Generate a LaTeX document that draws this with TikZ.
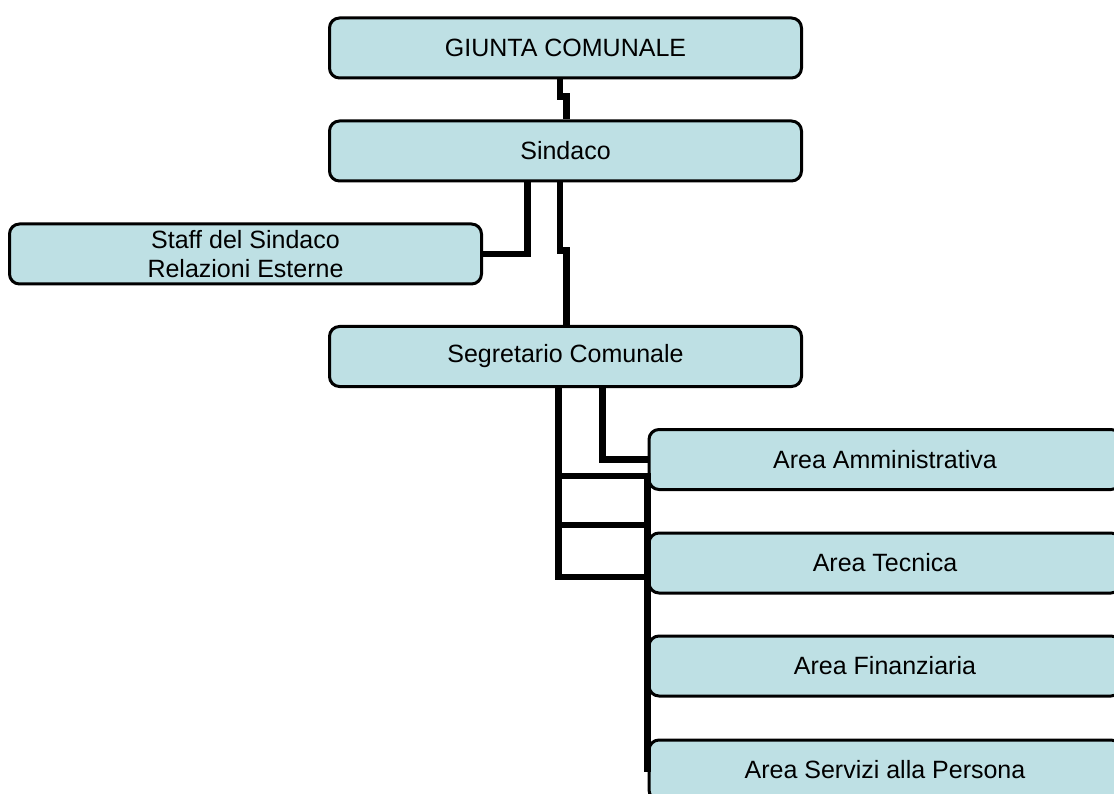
\documentclass[tikz,border=0pt]{standalone}
\usepackage{fontspec}
\setmainfont{Liberation Sans}
\definecolor{boxfill}{RGB}{190,224,228}
\begin{document}
\begin{tikzpicture}[x=1pt,y=-1pt,
  box/.style={draw=black, line width=3pt, fill=boxfill, rounded corners=10pt,
    minimum width=472pt, minimum height=60pt, inner sep=0pt, align=center,
    font=\fontsize{25}{28.75}\selectfont},
  conn/.style={draw=black, line width=6.5pt, miter limit=10}]
\useasboundingbox (0,0) rectangle (1114,794);
\clip (0,0) rectangle (1114,794);
\node[box] (giunta) at (565.5,48) {GIUNTA COMUNALE};
\node[box] (sindaco) at (565.5,151) {Sindaco};
\node[box] (staff) at (245.5,254) {Staff del Sindaco\\Relazioni Esterne};
\node[box] (segr) at (565.5,356.5) {Segretario Comunale};
\node[box] (amm) at (885,459.5) {Area Amministrativa};
\node[box] (tec) at (885,563) {Area Tecnica};
\node[box] (fin) at (885,666) {Area Finanziaria};
\node[box] (serv) at (885,770) {Area Servizi alla Persona};
\coordinate (ja) at (558.5,476);
\coordinate (jb) at (558.5,525);
\coordinate (jc) at (558.5,577);
\draw[conn] ([xshift=-5.5pt]giunta.south) -- ++(0,17) -| ([xshift=1pt]sindaco.north);
\draw[conn] ([xshift=-5.5pt]sindaco.south) -- ++(0,68) -| ([xshift=1pt]segr.north);
\draw[conn] ([xshift=-38pt]sindaco.south) |- (staff.east);
\draw[conn] ([xshift=37pt]segr.south) |- (amm.west);
\draw[conn] ([xshift=-7pt]segr.south) -- (jc) -- (jc -| serv.west);
\draw[conn] (ja) -- (ja -| serv.west) -- ([yshift=-2pt]serv.west);
\draw[conn] (jb) -- (jb -| serv.west);
\end{tikzpicture}
\end{document}
